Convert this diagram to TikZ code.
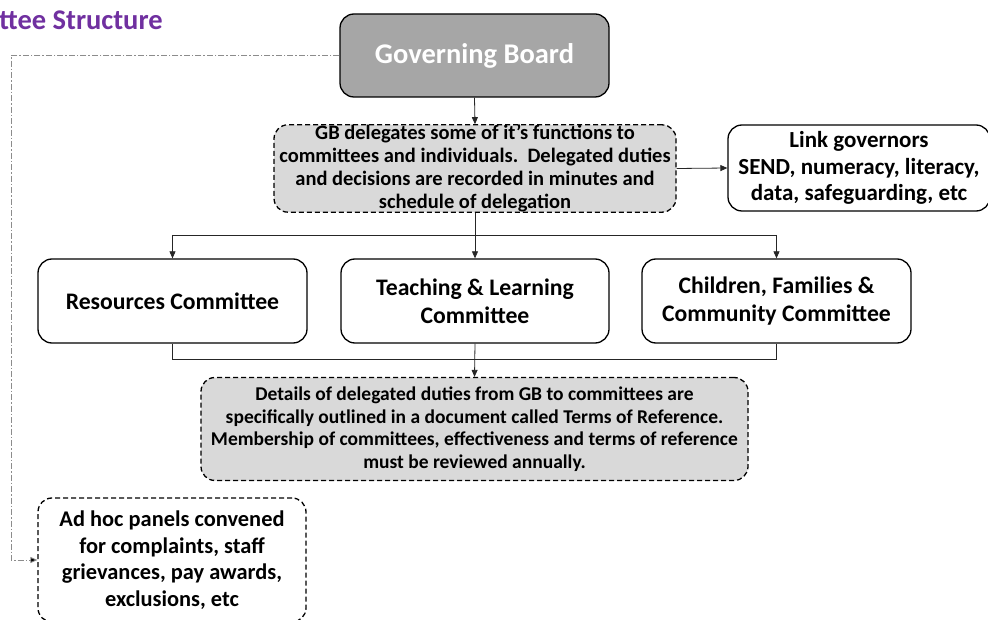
\documentclass[tikz,border=0pt]{standalone}
\usepackage{fontspec}
\setmainfont{Carlito}
\usetikzlibrary{arrows.meta}
\definecolor{titlepurple}{HTML}{7030A0}
\definecolor{gbfill}{HTML}{A6A6A6}
\definecolor{notefill}{HTML}{D9D9D9}
\definecolor{dashgray}{HTML}{8C8C8C}
\tikzset{
  box/.style={draw=black, line width=1.3pt, rounded corners=14pt, align=center, inner sep=0pt, font=\bfseries},
  notebox/.style={box, dashed, fill=notefill, dash pattern=on 5pt off 3pt},
  conn/.style={draw=black!85, line width=0.8pt},
  arr/.style={conn, -{Triangle[length=7pt,width=6pt]}},
}
\begin{document}
\begin{tikzpicture}[x=1pt,y=-1pt]
\useasboundingbox (0,0) rectangle (988,620);
\node[anchor=west, text=titlepurple, font=\fontsize{28.5}{32}\selectfont\bfseries, inner sep=0pt] (title) at (-1,20) {ttee Structure};
\node[box, fill=gbfill, text=white, minimum width=269pt, minimum height=83pt, font=\fontsize{28.5}{32}\selectfont\bfseries] (gb) at (474.5,55.5) {Governing Board};
\node[notebox, minimum width=402pt, minimum height=87pt, font=\fontsize{20.5}{23}\selectfont\bfseries] (del) at (475,168.5) {GB delegates some of it’s functions to\\committees and individuals.\ \ Delegated duties\\and decisions are recorded in minutes and\\schedule of delegation};
\node[box, minimum width=262pt, minimum height=86pt, font=\fontsize{23}{26.5}\selectfont\bfseries] (link) at (859,168) {Link governors\\SEND, numeracy, literacy,\\data, safeguarding, etc};
\node[box, minimum width=269pt, minimum height=84pt, font=\fontsize{23.7}{28}\selectfont\bfseries] (res) at (172.5,301) {Resources Committee};
\node[box, minimum width=268pt, minimum height=84pt, font=\fontsize{23.7}{28}\selectfont\bfseries] (tl) at (475,301) {Teaching \& Learning\\Committee};
\node[box, minimum width=269pt, minimum height=84pt, font=\fontsize{23.7}{28}\selectfont\bfseries] (chi) at (776.5,301) {Children, Families \&\\Community Committee};
\node[notebox, minimum width=547pt, minimum height=103pt, font=\fontsize{19.5}{22.6}\selectfont\bfseries] (det) at (474.5,429) {Details of delegated duties from GB to committees are\\specifically outlined in a document called Terms of Reference.\\Membership of committees, effectiveness and terms of reference\\must be reviewed annually.};
\node[box, dashed, dash pattern=on 5pt off 3pt, fill=white, minimum width=268pt, minimum height=124pt, font=\fontsize{22.4}{26.5}\selectfont\bfseries] (adhoc) at (172,560) {Ad hoc panels convened\\for complaints, staff\\grievances, pay awards,\\exclusions, etc};
\coordinate (j1) at (475,235);
\coordinate (j2) at (475,359);
\coordinate (lft) at (11,0);
\draw[arr] (gb.south) -- (del.north);
\draw[arr] (del.east) -- (link.west);
\draw[conn] (del.south) -- (j1);
\draw[conn] (j1 -| res.north) -- (j1 -| chi.north);
\draw[arr] (j1 -| res.north) -- (res.north);
\draw[arr] (j1) -- (tl.north);
\draw[arr] (j1 -| chi.north) -- (chi.north);
\draw[conn] (res.south) -- (res.south |- j2) -- (chi.south |- j2) -- (chi.south);
\draw[arr] (tl.south) -- (det.north);
\draw[draw=dashgray, line width=0.8pt, dash pattern=on 6pt off 2pt on 1.5pt off 2pt, -{Triangle[length=7pt,width=6pt,fill=black]}] (gb.west) -- (gb.west -| lft) -- (lft |- adhoc.west) -- (adhoc.west);
\end{tikzpicture}
\end{document}
